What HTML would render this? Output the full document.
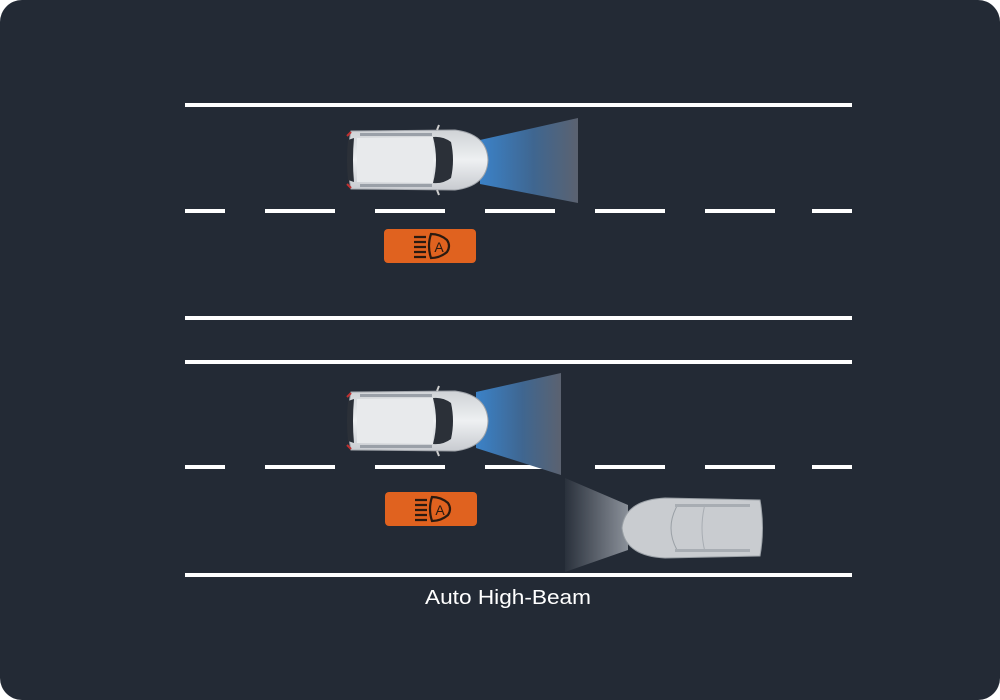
<!DOCTYPE html>
<html><head><style>
html,body{margin:0;padding:0;background:#fff;}
svg{display:block;}
</style></head><body>
<svg width="1000" height="700" viewBox="0 0 1000 700" xmlns="http://www.w3.org/2000/svg">
<defs>
<linearGradient id="b1" x1="0" x2="1" y1="0" y2="0">
<stop offset="0" stop-color="#3b82c8"/><stop offset="0.55" stop-color="#3f6690"/><stop offset="1" stop-color="#5b6270"/>
</linearGradient>
<linearGradient id="b3" x1="1" x2="0" y1="0" y2="0">
<stop offset="0" stop-color="#8a9099"/><stop offset="1" stop-color="#2a313c"/>
</linearGradient>
<linearGradient id="body" x1="0" x2="0" y1="0" y2="1">
<stop offset="0" stop-color="#cfd2d6"/><stop offset="0.5" stop-color="#eef0f2"/><stop offset="1" stop-color="#c8cbd0"/>
</linearGradient>
<g id="car">
<path d="M6,3 Q0,32 6,61 L110,62 Q142,58 143,32 Q142,6 110,2 Z" fill="url(#body)" stroke="#a0a4aa" stroke-width="1"/>
<path d="M12,10 L88,9 L88,55 L12,54 Z" fill="#e8eaec"/>
<path d="M88,9 Q98,8 106,14 Q110,32 106,50 Q98,56 88,55 Q94,32 88,9 Z" fill="#2b3038"/>
<path d="M3,12 Q1,32 3,52 L9,54 Q7,32 9,10 Z" fill="#2b3038"/>
<rect x="15" y="5" width="72" height="3" fill="#9aa0a8"/>
<rect x="15" y="56" width="72" height="3" fill="#9aa0a8"/>
<path d="M6,4 L2,8" stroke="#c03030" stroke-width="2"/>
<path d="M6,60 L2,56" stroke="#c03030" stroke-width="2"/>
<path d="M92,2 L94,-3 M92,62 L94,67" stroke="#ccc" stroke-width="2"/>
</g>
<g id="badge">
<rect x="0" y="0" width="92" height="34" rx="4" fill="#e0621f"/>
<g stroke="#2a1a10" stroke-width="2.2" fill="none">
<path d="M30,8h12M30,13h12M30,18h12M30,23h12M30,28h12"/>
<path d="M47,5 Q56,5 63,11 Q67,17 63,23 Q56,29 47,29 Q43,17 47,5 Z"/>
</g>
<text x="55" y="23" font-family="Liberation Sans,sans-serif" font-size="14" fill="#2a1a10" text-anchor="middle">A</text>
</g>
</defs>
<rect x="0" y="0" width="1000" height="700" rx="22" fill="#232a35"/>
<g fill="#fff">
<rect x="185" y="103" width="667" height="4"/>
<rect x="185" y="316" width="667" height="4"/>
<rect x="185" y="360" width="667" height="4"/>
<rect x="185" y="573" width="667" height="4"/>
</g>
<g stroke="#fff" stroke-width="4">
<path d="M185,211h40M265,211h70M375,211h70M485,211h70M595,211h70M705,211h70M812,211h40"/>
<path d="M185,467h40M265,467h70M375,467h70M485,467h70M595,467h70M705,467h70M812,467h40"/>
</g>
<polygon points="480,140 578,118 578,203 480,184" fill="url(#b1)"/>
<polygon points="476,392 561,373 561,475 476,448" fill="url(#b1)"/>
<polygon points="628,505 565,478 565,572 628,550" fill="url(#b3)"/>
<use href="#car" x="345" y="128"/>
<use href="#car" x="345" y="389"/>
<g transform="translate(765,496) scale(-1,1)">
<path d="M5,4 Q0,32 5,60 L100,62 Q140,60 143,32 Q140,4 100,2 Z" fill="#c9ccd0" stroke="#9aa0a6"/>
<path d="M88,10 Q100,32 88,54" stroke="#9aa0a6" fill="none"/>
<path d="M60,8 Q66,32 60,56" stroke="#a8adb3" fill="none"/>
<rect x="15" y="8" width="75" height="3" fill="#a8adb3"/>
<rect x="15" y="53" width="75" height="3" fill="#a8adb3"/>
</g>
<use href="#badge" x="384" y="229"/>
<use href="#badge" x="385" y="492"/>
<text x="425" y="604" font-family="Liberation Sans,sans-serif" font-size="20" fill="#fff" textLength="166" lengthAdjust="spacingAndGlyphs">Auto High-Beam</text>
</svg>
</body></html>
